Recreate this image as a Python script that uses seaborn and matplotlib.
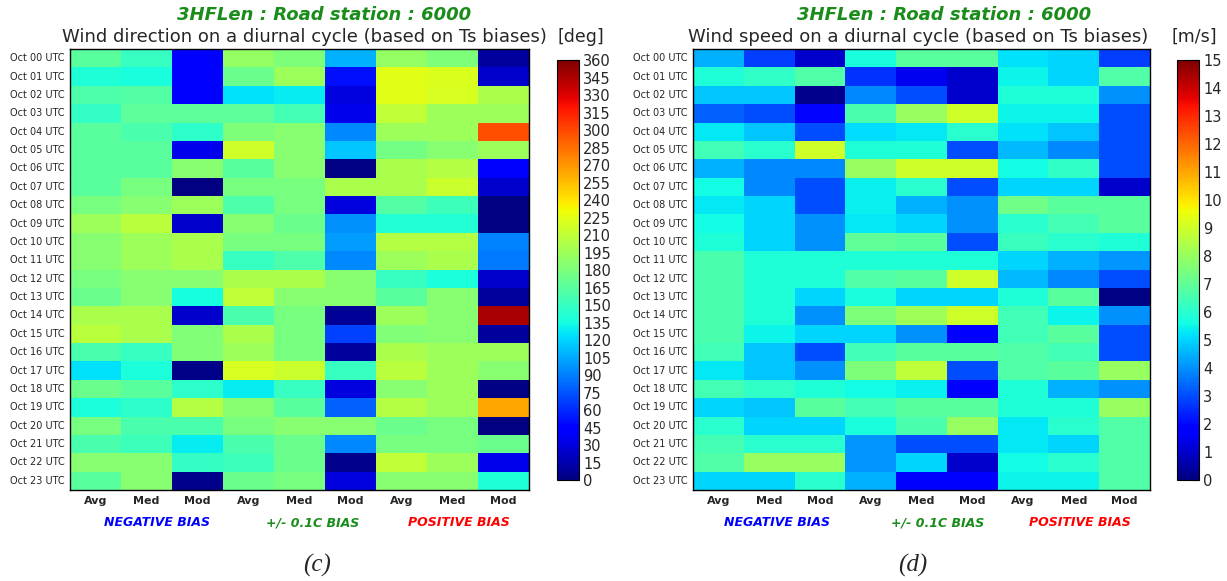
import numpy as np
import pandas as pd
import matplotlib
matplotlib.use("Agg")
import matplotlib.pyplot as plt
import seaborn as sns

hours = [f"Oct {h:02d} UTC" for h in range(24)]
stats = ["Avg", "Med", "Mod", "Avg", "Med", "Mod", "Avg", "Med", "Mod"]
groups = ["NEGATIVE BIAS", "+/- 0.1C BIAS", "POSITIVE BIAS"]
group_colors = ["#0000ff", "#1a8c1a", "#ff0000"]

# Wind direction [deg], one row per hour, columns: neg(Avg,Med,Mod), 0.1C(Avg,Med,Mod), pos(Avg,Med,Mod)
wind_dir = [
    [165, 150, 42, 190, 180, 108, 190, 180, 10],
    [140, 137, 42, 172, 195, 50, 224, 222, 25],
    [160, 162, 42, 124, 128, 30, 224, 220, 200],
    [148, 166, 166, 166, 155, 35, 210, 195, 195],
    [165, 158, 145, 180, 185, 93, 195, 195, 297],
    [165, 165, 35, 216, 185, 115, 176, 185, 195],
    [165, 165, 185, 165, 185, 2, 200, 205, 40],
    [165, 178, 1, 178, 178, 200, 200, 214, 25],
    [178, 185, 195, 160, 178, 30, 162, 152, 0],
    [195, 208, 25, 185, 172, 97, 142, 142, 0],
    [185, 195, 200, 178, 178, 100, 205, 205, 90],
    [185, 195, 200, 150, 160, 93, 195, 200, 88],
    [178, 185, 185, 200, 200, 185, 150, 138, 25],
    [172, 185, 135, 210, 185, 185, 165, 185, 10],
    [200, 200, 24, 158, 178, 8, 195, 185, 347],
    [207, 200, 182, 200, 178, 68, 182, 185, 10],
    [158, 150, 182, 195, 178, 10, 200, 195, 195],
    [124, 138, 3, 220, 214, 150, 208, 195, 185],
    [172, 165, 145, 128, 150, 30, 185, 195, 2],
    [138, 145, 205, 185, 165, 79, 205, 195, 264],
    [178, 158, 158, 178, 185, 185, 172, 178, 0],
    [158, 152, 128, 158, 172, 93, 178, 178, 172],
    [185, 185, 148, 152, 172, 5, 210, 195, 35],
    [165, 185, 5, 172, 178, 30, 185, 185, 140],
]

# Wind speed [m/s]
wind_spd = [
    [4.5, 2.8, 1.0, 5.7, 6.9, 6.9, 5.2, 5.0, 2.8],
    [5.85, 6.1, 6.7, 2.6, 1.5, 1.0, 5.5, 5.0, 6.7],
    [4.8, 4.8, 0.2, 3.9, 3.0, 1.0, 5.85, 5.85, 4.0],
    [3.3, 3.0, 1.9, 6.6, 8.0, 9.0, 5.5, 5.5, 3.0],
    [5.3, 4.8, 3.0, 5.1, 5.3, 6.0, 5.2, 4.8, 3.0],
    [6.4, 6.0, 9.0, 5.85, 5.85, 3.0, 4.6, 3.9, 3.0],
    [4.5, 3.9, 3.9, 8.0, 9.0, 9.0, 5.6, 6.1, 3.0],
    [5.6, 3.9, 3.0, 5.4, 6.0, 3.0, 5.0, 5.0, 1.0],
    [5.3, 5.0, 3.0, 5.4, 4.5, 4.0, 7.3, 6.9, 6.9],
    [5.6, 5.0, 4.0, 5.3, 5.0, 4.0, 6.0, 6.5, 6.9],
    [5.85, 5.0, 4.0, 7.0, 6.9, 3.0, 6.3, 6.0, 5.85],
    [6.6, 5.85, 5.85, 5.85, 5.85, 5.85, 5.0, 4.5, 4.1],
    [6.6, 5.85, 5.85, 6.7, 6.9, 9.0, 4.6, 3.9, 3.0],
    [6.6, 5.85, 5.0, 5.7, 5.0, 5.0, 5.85, 6.9, 0.1],
    [6.6, 5.85, 4.0, 7.5, 8.2, 9.0, 6.4, 5.5, 4.0],
    [6.6, 5.5, 5.0, 5.0, 4.0, 1.8, 6.4, 6.9, 3.0],
    [6.4, 4.8, 3.0, 6.4, 6.9, 6.9, 6.7, 6.4, 3.0],
    [5.3, 4.8, 4.0, 7.5, 8.7, 3.0, 6.7, 6.9, 8.0],
    [6.5, 6.1, 5.85, 5.6, 5.4, 1.7, 5.85, 4.5, 4.0],
    [5.0, 4.8, 6.9, 6.5, 6.9, 6.9, 5.85, 5.85, 8.0],
    [6.0, 5.0, 5.0, 5.7, 6.6, 8.0, 5.3, 6.0, 6.7],
    [6.5, 6.0, 6.0, 4.1, 3.0, 3.0, 5.3, 5.0, 6.7],
    [6.7, 8.0, 8.0, 4.1, 5.0, 1.0, 5.6, 6.0, 6.7],
    [5.0, 5.0, 6.0, 4.5, 1.7, 1.7, 5.5, 5.5, 6.7],
]

panels = [
    dict(data=wind_dir, vmin=0, vmax=360, ticks=np.arange(0, 361, 15),
         title="Wind direction on a diurnal cycle (based on Ts biases)", unit="[deg]",
         ax_rect=[0.0570, 0.1566, 0.3741, 0.7590], cb_rect=[0.4540, 0.1738, 0.0179, 0.7229],
         title_x=0.2478, unit_x=0.4731, head_x=0.2641, group_x=[0.1280, 0.2550, 0.3740], tag="(c)", tag_x=0.2580),
    dict(data=wind_spd, vmin=0, vmax=15, ticks=np.arange(0, 16, 1),
         title="Wind speed on a diurnal cycle (based on Ts biases)", unit="[m/s]",
         ax_rect=[0.5648, 0.1566, 0.3725, 0.7590], cb_rect=[0.9593, 0.1738, 0.0179, 0.7229],
         title_x=0.7486, unit_x=0.9735, head_x=0.7694, group_x=[0.6330, 0.7640, 0.8800], tag="(d)", tag_x=0.7440),
]

sns.set_style("white")
plt.rcParams["font.family"] = ["DejaVu Sans"]

fig = plt.figure(figsize=(12.27, 5.81), dpi=100)

for p in panels:
    ax = fig.add_axes(p["ax_rect"])
    cax = fig.add_axes(p["cb_rect"])
    df = pd.DataFrame(p["data"], index=hours, columns=range(len(stats)))
    sns.heatmap(df, ax=ax, cbar_ax=cax, cmap="jet", vmin=p["vmin"], vmax=p["vmax"],
                linewidths=0, cbar_kws={"ticks": p["ticks"]})
    ax.set_xticklabels(stats, rotation=0, fontsize=8, fontweight="bold")
    ax.set_yticklabels(hours, rotation=0, fontsize=7)
    ax.set_xlabel("")
    ax.set_ylabel("")
    for s in ax.spines.values():
        s.set_visible(True)
        s.set_linewidth(1.0)
        s.set_color("black")
    ax.tick_params(axis="both", direction="in", length=4, width=0.8, color="black",
                   top=True, right=True, bottom=True, left=True,
                   labeltop=False, labelright=False, pad=4)
    cax.tick_params(direction="in", length=5, width=0.8, color="black", labelsize=10.5, pad=3)
    cax.set_yticklabels([f"{t:d}" for t in p["ticks"]])
    cb = ax.collections[0].colorbar
    cb.outline.set_visible(True)
    cb.outline.set_linewidth(0.8)
    cb.outline.set_edgecolor("black")

    fig.text(p["head_x"], 1 - 15 / 581, "3HFLen : Road station : 6000", ha="center", va="center",
             fontsize=13, fontweight="bold", fontstyle="italic", color="#1a8c1a")
    fig.text(p["title_x"], 1 - 37 / 581, p["title"], ha="center", va="center", fontsize=13)
    fig.text(p["unit_x"], 1 - 37 / 581, p["unit"], ha="center", va="center", fontsize=12.5)
    for gx, g, gc in zip(p["group_x"], groups, group_colors):
        fig.text(gx, 1 - 523 / 581, g, ha="center", va="center", fontsize=9,
                 fontweight="bold", fontstyle="italic", color=gc)
    fig.text(p["tag_x"], 1 - 565 / 581, p["tag"], ha="center", va="center", fontsize=18,
             fontstyle="italic", family="Liberation Serif")

fig.savefig("out.png", dpi=100, facecolor="white")
